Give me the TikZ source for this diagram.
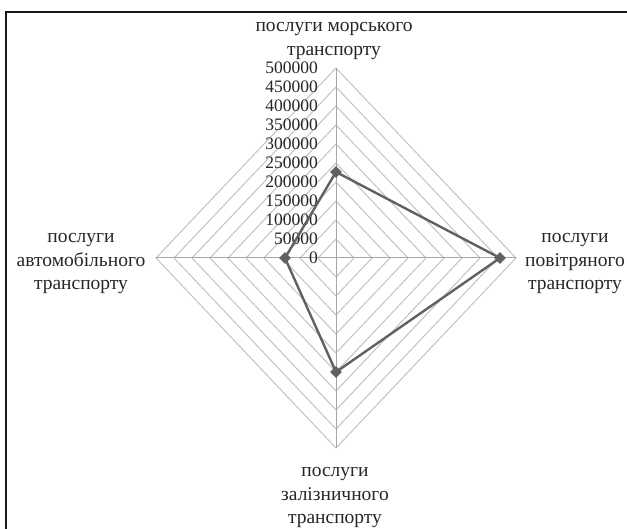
\documentclass[tikz,border=0pt]{standalone}
\usepackage{fontspec}
\setmainfont{Liberation Serif}
\usetikzlibrary{shapes.geometric}
\begin{document}
\begin{tikzpicture}[x=1pt,y=-1pt,
  gridline/.style={draw=black!24, line width=1pt, line join=miter},
  spoke/.style={draw=black!35, line width=1pt},
  series/.style={draw=black!62, line width=2.4pt, line join=round},
  mk/.style={diamond, fill=black!62, draw=none, inner sep=0pt, minimum width=12pt, minimum height=12pt},
  ticklab/.style={font=\fontsize{17.5}{17.5}\selectfont, text=black!85, anchor=east, inner sep=0pt},
  catlab/.style={font=\fontsize{19.5}{23.5}\selectfont, align=center, text=black!85, inner sep=0pt}]
\useasboundingbox (0,0) rectangle (627,529);
\draw[line width=1.3pt, black!90] (6,529) -- (6,12) -- (627,12);
% axes ends
\coordinate (C) at (336,258);
\coordinate (T) at (336,68);
\coordinate (R) at (516,258);
\coordinate (B) at (336,448);
\coordinate (L) at (156,258);
% grid
\foreach \k in {1,...,10}
  \draw[gridline] ({336},{258-19*\k}) -- ({336+18*\k},{258}) -- ({336},{258+19*\k}) -- ({336-18*\k},{258}) -- cycle;
\draw[spoke] (C) -- (T);
\draw[spoke] (C) -- (R);
\draw[spoke] (C) -- (B);
\draw[spoke] (C) -- (L);
% tick labels
\foreach \k/\lab in {0/0,1/50000,2/100000,3/150000,4/200000,5/250000,6/300000,7/350000,8/400000,9/450000,10/500000}
  \node[ticklab] (t\k) at ({318},{258-19*\k}) {\lab};
% data
\coordinate (pT) at (336,172);
\coordinate (pR) at (500,258);
\coordinate (pB) at (336,372);
\coordinate (pL) at (285,258);
\draw[series] (pT) -- (pR) -- (pB) -- (pL) -- cycle;
\node[mk] (mT) at (pT) {};
\node[mk] (mR) at (pR) {};
\node[mk] (mB) at (pB) {};
\node[mk] (mL) at (pL) {};
% category labels
\node[catlab] (cT) at (334,41) {послуги морського\\транспорту};
\node[catlab] (cL) at (81,264) {послуги\\автомобільного\\транспорту};
\node[catlab] (cR) at (575,264) {послуги\\повітряного\\транспорту};
\node[catlab] (cB) at (335,498) {послуги\\залізничного\\транспорту};
\end{tikzpicture}
\end{document}
